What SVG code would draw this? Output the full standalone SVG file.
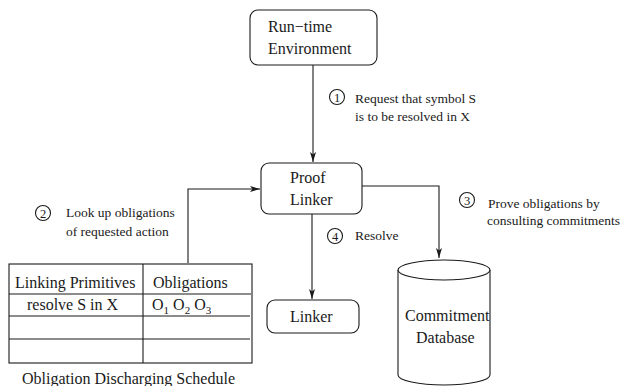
<svg xmlns="http://www.w3.org/2000/svg" width="626" height="386" viewBox="0 0 626 386" font-family="'Liberation Serif', 'Times New Roman', Times, 'DejaVu Serif', serif">
<style>
  text { font-family: 'Liberation Serif', 'Times New Roman', Times, 'DejaVu Serif', serif; fill: #1a1a1a; }
  .big { font-size: 16px; }
  .lbl { font-size: 13.5px; }
  .num { font-size: 12.5px; text-anchor: middle; }
  .box { fill: #fff; stroke: #1a1a1a; stroke-width: 1.1; }
  .ln { fill: none; stroke: #1a1a1a; stroke-width: 1.1; }
  .conn { fill: none; stroke: #1a1a1a; stroke-width: 1.1; marker-end: url(#ah); }
</style>
<defs>
  <marker id="ah" markerUnits="userSpaceOnUse" markerWidth="11" markerHeight="8" refX="10" refY="4" orient="auto">
    <path d="M0,1 L10,4 L0,7 L2.5,4 Z" fill="#1a1a1a"/>
  </marker>
</defs>
<rect width="626" height="386" fill="#fff"/>

<g id="connectors">
  <path class="conn" d="M313,65 L313,162"/>
  <path class="conn" d="M312,214 L312,299"/>
  <path class="conn" d="M362,186 L439,186 L439,258"/>
  <path class="conn" d="M188,263 L188,189 L260,189"/>
</g>

<g id="runtime">
  <rect class="box" x="250" y="10" width="127" height="55" rx="8"/>
  <text class="big" x="268" y="32">Run−time</text>
  <text class="big" x="268" y="54">Environment</text>
</g>

<g id="prooflinker">
  <rect class="box" x="261" y="163" width="101" height="51" rx="8"/>
  <text class="big" x="290" y="183">Proof</text>
  <text class="big" x="290" y="205">Linker</text>
</g>

<g id="linker">
  <rect class="box" x="267" y="300" width="92" height="33" rx="8"/>
  <text class="big" x="290" y="322">Linker</text>
</g>

<g id="database">
  <path class="box" d="M398,270 L398,375 A46,10 0 0 0 490,375 L490,270"/>
  <ellipse class="box" cx="444" cy="270" rx="46" ry="10"/>
  <text class="big" x="405" y="321">Commitment</text>
  <text class="big" x="416" y="343">Database</text>
</g>

<g id="schedule">
  <rect class="ln" x="9" y="264" width="243" height="99"/>
  <line class="ln" x1="143" y1="264" x2="143" y2="363"/>
  <line class="ln" x1="9" y1="294" x2="251" y2="294"/>
  <line class="ln" x1="9" y1="316" x2="250" y2="316"/>
  <line class="ln" x1="9" y1="339" x2="250" y2="339"/>
  <text class="big" x="15" y="288">Linking Primitives</text>
  <text class="big" x="153" y="288">Obligations</text>
  <text class="big" x="27" y="310">resolve S in X</text>
  <text class="big" x="152" y="310">O<tspan font-size="11" dy="4">1</tspan><tspan dy="-4"> O</tspan><tspan font-size="11" dy="4">2</tspan><tspan dy="-4"> O</tspan><tspan font-size="11" dy="4">3</tspan></text>
  <text class="big" x="22" y="384">Obligation Discharging Schedule</text>
</g>

<g id="label1">
  <circle class="ln" cx="337" cy="97" r="7.5"/>
  <text class="num" x="337" y="101.5">1</text>
  <text class="lbl" x="355" y="103">Request that symbol S</text>
  <text class="lbl" x="355" y="121">is to be resolved in X</text>
</g>

<g id="label2">
  <circle class="ln" cx="43" cy="213" r="7.5"/>
  <text class="num" x="43" y="217.5">2</text>
  <text class="lbl" x="66" y="217">Look up obligations</text>
  <text class="lbl" x="66" y="236">of requested action</text>
</g>

<g id="label3">
  <circle class="ln" cx="467" cy="200" r="7.5"/>
  <text class="num" x="467" y="204.5">3</text>
  <text class="lbl" x="488" y="208">Prove obligations by</text>
  <text class="lbl" x="487" y="225">consulting commitments</text>
</g>

<g id="label4">
  <circle class="ln" cx="335" cy="236" r="7.5"/>
  <text class="num" x="335" y="240.5">4</text>
  <text class="lbl" x="355" y="240">Resolve</text>
</g>
</svg>
